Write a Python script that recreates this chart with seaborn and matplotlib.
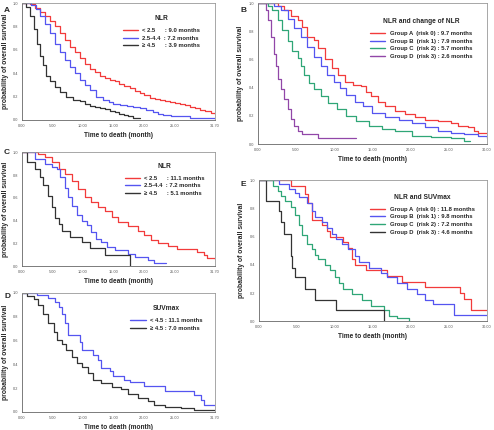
import numpy as np
import pandas as pd
import matplotlib
matplotlib.use("Agg")
import matplotlib.pyplot as plt
import seaborn as sns

sns.set_style("white")
plt.rcParams['font.family'] = ['Liberation Sans', 'DejaVu Sans']

RED = '#f23b3b'
BLUE = '#5555f0'
BLACK = '#333333'
GREEN = '#2fa677'
PURPLE = '#9147a8'

# ---- panel A : NLR ----
a_low_t = [0, 1.3, 2.2, 3.0, 3.8, 4.6, 5.4, 6.2, 7.0, 7.9, 8.7, 9.5, 10.3, 11.1, 12.0, 12.8, 13.6, 14.4, 15.2, 16.0,
           16.8, 17.7, 18.5, 19.3, 20.1, 21.0, 21.8, 22.6, 23.4, 24.3, 25.1, 25.9, 26.7, 27.5, 28.4, 29.2, 30.0, 31.0, 31.7]
a_low_s = [1.0, 0.99, 0.96, 0.92, 0.89, 0.85, 0.80, 0.74, 0.68, 0.625, 0.58, 0.53, 0.48, 0.44, 0.41, 0.38, 0.36, 0.34, 0.33, 0.31,
           0.29, 0.27, 0.25, 0.23, 0.21, 0.19, 0.18, 0.17, 0.16, 0.15, 0.145, 0.14, 0.125, 0.11, 0.10, 0.085, 0.075, 0.06, 0.055]
a_mid_t = [0, 1.5, 2.3, 3.0, 3.8, 4.6, 5.4, 6.2, 7.0, 7.9, 8.7, 9.5, 10.3, 11.1, 12.2, 13.3, 14.2, 15.0, 16.1, 17.2,
           18.3, 19.3, 20.4, 21.5, 22.4, 23.2, 24.5, 25.9, 27.5, 29.2, 31.7]
a_mid_s = [1.0, 0.98, 0.95, 0.89, 0.82, 0.74, 0.65, 0.58, 0.51, 0.45, 0.40, 0.34, 0.30, 0.26, 0.20, 0.17, 0.155, 0.14, 0.13, 0.12,
           0.11, 0.10, 0.085, 0.07, 0.055, 0.04, 0.035, 0.03, 0.02, 0.015, 0.01]
a_high_t = [0, 0.6, 1.3, 1.9, 2.4, 3.0, 3.5, 4.0, 4.6, 5.4, 6.2, 7.3, 8.4, 9.5, 10.3, 11.1, 12.0, 12.8, 13.6, 14.4,
            15.2, 16.0, 16.7, 17.4, 18.3, 19.3]
a_high_s = [1.0, 0.97, 0.89, 0.78, 0.65, 0.55, 0.47, 0.38, 0.33, 0.28, 0.24, 0.20, 0.17, 0.16, 0.14, 0.12, 0.11, 0.10, 0.09, 0.08,
            0.07, 0.05, 0.04, 0.03, 0.014, 0.014]
a_labels = ['< 2.5      : 9.0 months', '2.5-4.4  : 7.2 months', '\u2265 4.5      : 3.9 months']

# ---- panel B : NLR and change of NLR ----
b_a_t = [0, 2.6, 3.4, 4.3, 5.2, 5.8, 6.4, 7.3, 7.9, 8.8, 9.7, 10.5, 11.4, 12.4, 13.5, 14.2, 14.8, 15.7, 16.7, 18.0,
         19.3, 20.6, 21.9, 23.6, 25.3, 26.2, 27.5, 28.3, 28.8, 30.0]
b_a_s = [1.0, 0.98, 0.95, 0.91, 0.88, 0.83, 0.76, 0.74, 0.68, 0.60, 0.54, 0.49, 0.44, 0.42, 0.41, 0.37, 0.34, 0.30, 0.27, 0.234,
         0.21, 0.19, 0.17, 0.16, 0.15, 0.13, 0.12, 0.095, 0.08, 0.08]
b_b_t = [0, 2.1, 3.0, 3.9, 4.7, 5.6, 6.4, 7.3, 8.2, 9.0, 9.9, 10.7, 11.6, 12.7, 13.7, 15.0, 16.7, 18.5, 20.2, 21.9,
         23.6, 25.3, 27.0, 28.8, 30.0]
b_b_s = [1.0, 0.98, 0.95, 0.89, 0.82, 0.76, 0.69, 0.62, 0.55, 0.49, 0.44, 0.40, 0.35, 0.30, 0.27, 0.22, 0.195, 0.17, 0.15, 0.12,
         0.095, 0.08, 0.07, 0.06, 0.04]
b_c_t = [0, 1.3, 1.9, 2.6, 3.2, 3.9, 4.5, 5.2, 5.6, 6.0, 6.7, 7.3, 8.2, 9.2, 10.3, 11.6, 12.9, 14.6, 16.3, 18.0,
         20.2, 22.7, 25.3, 27.0, 27.7]
b_c_s = [1.0, 0.98, 0.95, 0.88, 0.81, 0.73, 0.66, 0.61, 0.55, 0.49, 0.43, 0.39, 0.34, 0.29, 0.25, 0.20, 0.16, 0.13, 0.11, 0.09,
         0.06, 0.05, 0.045, 0.02, 0.02]
b_d_t = [0, 1.1, 1.3, 1.7, 2.1, 2.4, 2.7, 3.0, 3.4, 3.9, 4.3, 4.7, 5.2, 5.8, 7.9, 12.9]
b_d_s = [1.0, 0.95, 0.88, 0.76, 0.64, 0.55, 0.46, 0.39, 0.32, 0.25, 0.18, 0.13, 0.09, 0.07, 0.04, 0.04]
b_labels = ['Group A  (risk 0) : 9.7 months', 'Group B  (risk 1) : 7.9 months',
            'Group C  (risk 2) : 5.7 months', 'Group D  (risk 3) : 2.6 months']

# ---- panel C : NLR ----
c_low_t = [0, 2.7, 3.8, 4.9, 6.0, 7.1, 8.2, 9.2, 10.3, 11.4, 12.5, 13.6, 14.7, 15.8, 17.4, 19.0, 20.1, 21.2, 22.3, 23.9,
           25.5, 28.8, 29.9, 30.4, 31.7]
c_low_s = [1.0, 0.98, 0.96, 0.91, 0.85, 0.81, 0.75, 0.68, 0.61, 0.56, 0.52, 0.48, 0.43, 0.39, 0.35, 0.31, 0.27, 0.23, 0.20, 0.175,
           0.155, 0.125, 0.095, 0.07, 0.065]
c_mid_t = [0, 2.2, 3.8, 4.9, 5.7, 6.3, 7.1, 7.6, 8.2, 9.0, 9.8, 10.6, 11.4, 12.2, 13.0, 13.9, 15.2, 17.4, 18.5, 20.7, 21.7, 23.6]
c_mid_s = [1.0, 0.94, 0.90, 0.87, 0.85, 0.78, 0.69, 0.61, 0.53, 0.45, 0.40, 0.36, 0.30, 0.24, 0.21, 0.17, 0.14, 0.11, 0.08, 0.05, 0.03, 0.03]
c_high_t = [0, 0.8, 2.2, 3.0, 3.5, 4.3, 4.9, 5.4, 6.0, 6.5, 7.9, 9.8, 11.1, 13.6, 17.7]
c_high_s = [1.0, 0.91, 0.85, 0.78, 0.71, 0.62, 0.52, 0.42, 0.37, 0.31, 0.26, 0.21, 0.16, 0.10, 0.0]
c_labels = ['< 2.5      : 11.1 months', '2.5-4.4  : 7.2 months', '\u2265 4.5      : 5.1 months']

# ---- panel D : SUVmax ----
d_low_t = [0, 2.4, 4.3, 5.4, 6.0, 6.5, 7.1, 7.6, 9.5, 9.8, 11.7, 12.5, 13.0, 14.4, 14.9, 16.8, 17.7, 20.1, 23.4, 28.3,
           29.3, 29.9, 31.7]
d_low_s = [1.0, 0.98, 0.955, 0.92, 0.88, 0.82, 0.75, 0.65, 0.59, 0.52, 0.48, 0.44, 0.37, 0.34, 0.30, 0.27, 0.25, 0.22, 0.18, 0.14,
           0.10, 0.06, 0.06]
d_high_t = [0, 0.8, 1.9, 2.7, 3.5, 4.3, 5.2, 5.7, 6.5, 7.3, 8.2, 9.0, 9.8, 10.9, 11.7, 13.0, 14.7, 16.3, 17.4, 19.0,
            20.7, 21.7, 23.4, 26.1, 28.3, 31.7]
d_high_s = [1.0, 0.97, 0.95, 0.90, 0.82, 0.75, 0.67, 0.60, 0.57, 0.52, 0.46, 0.41, 0.38, 0.33, 0.27, 0.24, 0.21, 0.19, 0.15, 0.12,
            0.09, 0.06, 0.04, 0.03, 0.015, 0.015]
d_labels = ['< 4.5 : 11.1 months', '\u2265 4.5 : 7.0 months']

# ---- panel E : NLR and SUVmax ----
e_a_t = [0, 4.2, 6.1, 6.5, 7.0, 8.3, 8.9, 9.4, 11.1, 11.7, 12.2, 12.6, 14.1, 16.9, 18.8, 21.9, 26.4, 27.0, 27.9, 30.0]
e_a_s = [1.0, 0.96, 0.90, 0.84, 0.72, 0.68, 0.64, 0.60, 0.56, 0.52, 0.44, 0.40, 0.36, 0.32, 0.28, 0.24, 0.20, 0.16, 0.08, 0.08]
e_b_t = [0, 2.7, 4.0, 4.8, 5.3, 6.3, 7.0, 7.4, 8.3, 8.9, 9.6, 10.2, 10.9, 11.7, 12.6, 13.2, 14.5, 16.0, 16.9, 18.2,
         19.5, 20.8, 21.9, 22.9, 25.7, 30.0]
e_b_s = [1.0, 0.97, 0.94, 0.91, 0.88, 0.84, 0.78, 0.74, 0.70, 0.66, 0.62, 0.58, 0.55, 0.51, 0.46, 0.42, 0.38, 0.34, 0.31, 0.27,
         0.23, 0.19, 0.15, 0.12, 0.045, 0.045]
e_c_t = [0, 1.8, 2.5, 2.9, 3.5, 4.2, 4.8, 5.3, 5.7, 6.3, 7.0, 7.4, 7.8, 8.7, 9.4, 10.0, 10.6, 11.1, 12.2, 13.5,
         14.7, 16.5, 17.1, 18.2, 19.7]
e_c_s = [1.0, 0.96, 0.92, 0.89, 0.85, 0.81, 0.75, 0.68, 0.61, 0.55, 0.51, 0.47, 0.44, 0.40, 0.36, 0.31, 0.27, 0.23, 0.19, 0.15,
         0.11, 0.08, 0.04, 0.02, 0.0]
e_d_t = [0, 0.95, 2.7, 2.9, 3.3, 4.2, 4.4, 4.8, 6.1, 7.4, 10.2, 16.5]
e_d_s = [1.0, 0.85, 0.78, 0.70, 0.62, 0.46, 0.38, 0.31, 0.23, 0.15, 0.08, 0.0]
e_labels = ['Group A  (risk 0) : 11.8 months', 'Group B  (risk 1) : 9.8 months',
            'Group C  (risk 2) : 7.2 months', 'Group D  (risk 3) : 4.6 months']


def km_panel(ax, curves, colors, labels, title, xmax, xticks, xticklabels, leg_anchor):
    for (t, s), c, lab in zip(curves, colors, labels):
        sns.lineplot(x=t, y=s, ax=ax, color=c, drawstyle='steps-post', linewidth=0.9,
                     label=lab, sort=False, estimator=None)
    ax.set_xlim(0, xmax)
    ax.set_ylim(0, 1.0)
    ax.set_xticks(xticks)
    ax.set_xticklabels(xticklabels)
    ax.set_yticks([0, 0.2, 0.4, 0.6, 0.8, 1.0])
    ax.set_yticklabels(['0.0', '0.2', '0.4', '0.6', '0.8', '1.0'])
    ax.tick_params(axis='both', labelsize=2.8, colors='#555555', length=1.5, width=0.5, pad=1.2)
    for sp in ax.spines.values():
        sp.set_color('#999999')
        sp.set_linewidth(0.6)
    ax.spines['left'].set_color('#666666')
    ax.spines['bottom'].set_color('#666666')
    ax.set_xlabel('Time to death (month)', fontsize=4.7, fontweight='bold', labelpad=3)
    ax.set_ylabel('probability of overall survival', fontsize=4.9, fontweight='bold', labelpad=3)
    leg = ax.legend(title=title, loc='upper left', bbox_to_anchor=leg_anchor, frameon=False,
                    fontsize=4.2, title_fontsize=4.8, handlelength=2.6, handletextpad=0.8,
                    labelspacing=0.45, borderpad=0.2)
    leg._legend_box.sep = 4
    for txt in leg.get_texts():
        txt.set_fontweight('bold')
    leg.get_title().set_fontweight('bold')
    for h in leg.get_lines():
        h.set_linewidth(1.0)


fig = plt.figure(figsize=(4.94, 4.30), dpi=100)
fig.patch.set_facecolor('white')

xt_a = [0, 5, 10, 15, 20, 25, 31.7]
xl_a = ['0.00', '5.00', '10.00', '15.00', '20.00', '25.00', '31.70']
xt_b = [0, 5, 10, 15, 20, 25, 30]
xl_b = ['0.00', '5.00', '10.00', '15.00', '20.00', '25.00', '30.00']

ax_a = fig.add_axes([0.0445, 0.721, 0.391, 0.272])
km_panel(ax_a, [(a_low_t, a_low_s), (a_mid_t, a_mid_s), (a_high_t, a_high_s)],
         [RED, BLUE, BLACK], a_labels, 'NLR', 31.7, xt_a, xl_a, (0.50, 0.93))

ax_b = fig.add_axes([0.522, 0.665, 0.464, 0.328])
km_panel(ax_b, [(b_a_t, b_a_s), (b_b_t, b_b_s), (b_c_t, b_c_s), (b_d_t, b_d_s)],
         [RED, BLUE, GREEN, PURPLE], b_labels, 'NLR and change of NLR', 30, xt_b, xl_b, (0.47, 0.92))

ax_c = fig.add_axes([0.0445, 0.381, 0.391, 0.265])
km_panel(ax_c, [(c_low_t, c_low_s), (c_mid_t, c_mid_s), (c_high_t, c_high_s)],
         [RED, BLUE, BLACK], c_labels, 'NLR', 31.7, xt_a, xl_a, (0.51, 0.94))

ax_d = fig.add_axes([0.0445, 0.042, 0.391, 0.277])
km_panel(ax_d, [(d_low_t, d_low_s), (d_high_t, d_high_s)],
         [BLUE, BLACK], d_labels, 'SUVmax', 31.7, xt_a, xl_a, (0.54, 0.93))

ax_e = fig.add_axes([0.524, 0.253, 0.462, 0.328])
km_panel(ax_e, [(e_a_t, e_a_s), (e_b_t, e_b_s), (e_c_t, e_c_s), (e_d_t, e_d_s)],
         [RED, BLUE, GREEN, BLACK], e_labels, 'NLR and SUVmax', 30, xt_b, xl_b, (0.47, 0.93))

for lab, x, y in [('A', 4, 10), ('B', 240, 10), ('C', 4, 153), ('D', 4, 296), ('E', 240, 185)]:
    fig.text(x / 494, 1 - y / 430, lab, fontsize=6, fontweight='bold', va='center', ha='left')

fig.savefig('out.png', dpi=100, facecolor='white')
